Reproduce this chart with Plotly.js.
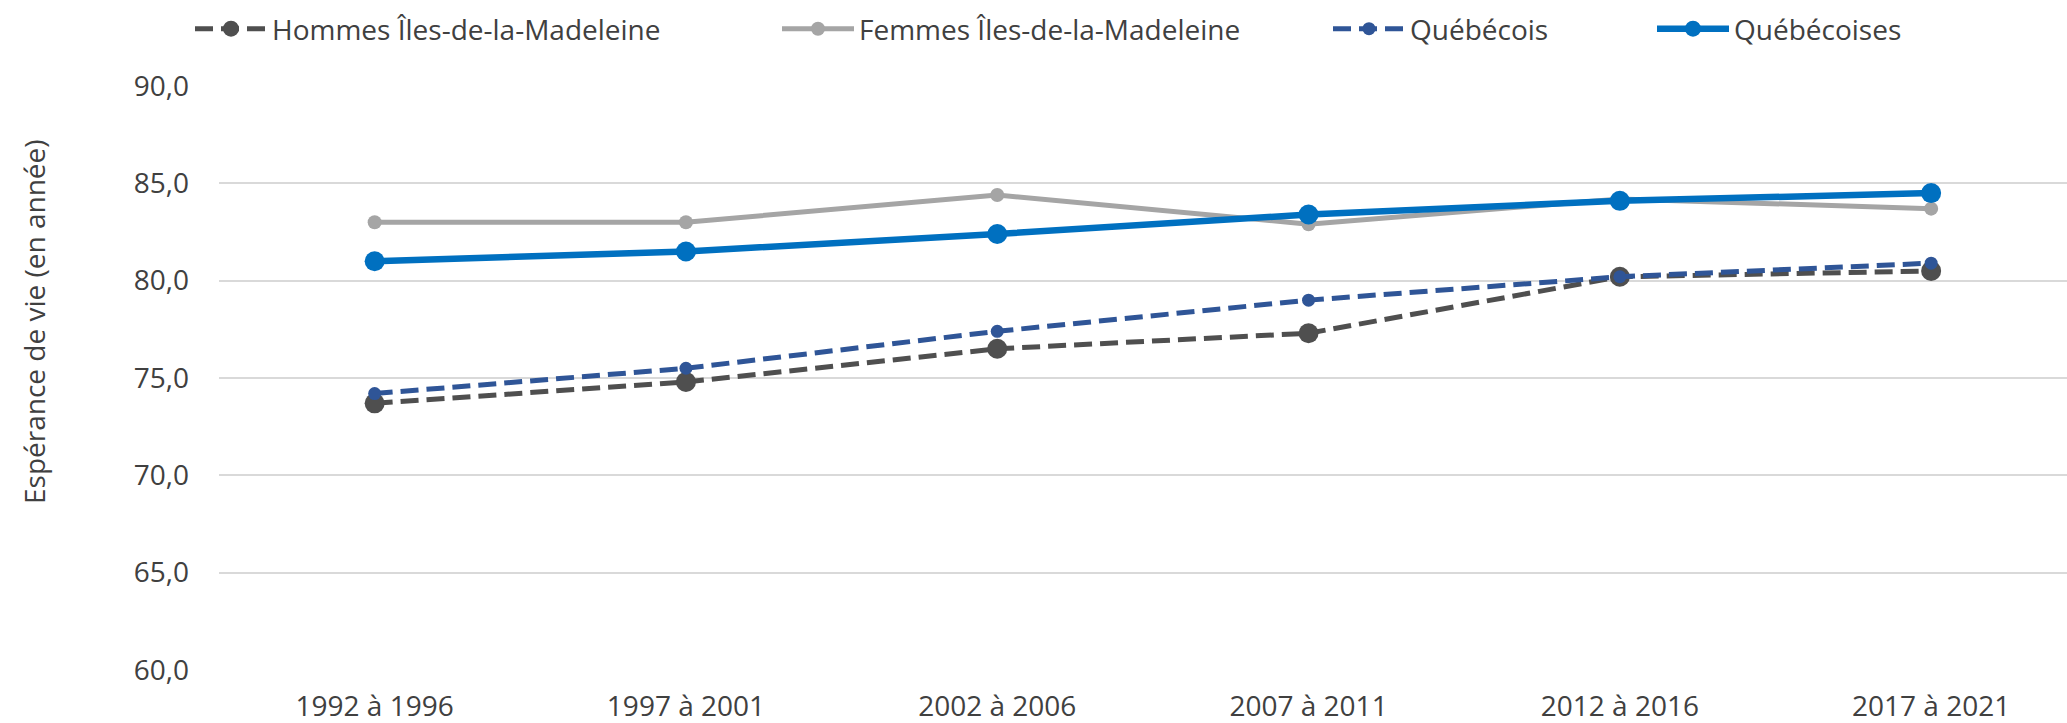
<!DOCTYPE html>
<html>
<head>
<meta charset="utf-8">
<script src="https://cdn.plot.ly/plotly-3.0.1.min.js"></script>
<style>
  html, body { margin: 0; padding: 0; background: #ffffff; }
  #chart { width: 2067px; height: 723px; }
</style>
</head>
<body>
<div id="chart"></div>
<script>
// ---- Data ----
const periods = ["1992 à 1996", "1997 à 2001", "2002 à 2006", "2007 à 2011", "2012 à 2016", "2017 à 2021"];
const seriesNames = ["Hommes Îles-de-la-Madeleine", "Femmes Îles-de-la-Madeleine", "Québécois", "Québécoises"];
const hommesIdM = [73.7, 74.8, 76.5, 77.3, 80.2, 80.5];
const femmesIdM = [83.0, 83.0, 84.4, 82.9, 84.2, 83.7];
const quebecois = [74.2, 75.5, 77.4, 79.0, 80.2, 80.9];
const quebecoises = [81.0, 81.5, 82.4, 83.4, 84.1, 84.5];
const yTicks = [60, 65, 70, 75, 80, 85, 90];

(function () {
  const W = 2067, H = 723;
  const FONT = "Open Sans, Noto Sans, sans-serif";
  const TXT = "#404040";

  const traces = [
    { name: seriesNames[0], y: hommesIdM, color: "#4F4F4F", width: 5, dash: "18px,8px", size: 20, legend: "legend" },
    { name: seriesNames[1], y: femmesIdM, color: "#A5A5A5", width: 5, dash: "solid", size: 14, legend: "legend2" },
    { name: seriesNames[2], y: quebecois, color: "#2F5597", width: 5, dash: "18px,8px", size: 13, legend: "legend3" },
    { name: seriesNames[3], y: quebecoises, color: "#0070C0", width: 6.5, dash: "solid", size: 20, legend: "legend4" }
  ].map(s => ({
    type: "scatter",
    mode: "lines+markers",
    name: s.name,
    x: periods,
    y: s.y,
    legend: s.legend,
    line: { color: s.color, width: s.width, dash: s.dash },
    marker: { color: s.color, size: s.size, symbol: "circle" },
    hoverinfo: "x+y+name"
  }));

  function leg(xpx) {
    return {
      orientation: "h",
      xref: "container", yref: "container",
      x: xpx / W, y: 1 - 29 / H,
      xanchor: "left", yanchor: "middle",
      font: { family: FONT, size: 28, color: TXT },
      itemwidth: 72,
      bgcolor: "rgba(0,0,0,0)",
      borderwidth: 0
    };
  }

  const mL = 219, mR = 0, mT = 86, mB = 53;
  const plotW = W - mL - mR;
  const catPx = 311.3;

  const layout = {
    width: W, height: H,
    paper_bgcolor: "#ffffff",
    plot_bgcolor: "#ffffff",
    margin: { l: mL, r: mR, t: mT, b: mB, pad: 0 },
    font: { family: FONT, size: 28, color: TXT },
    separators: ", ",
    showlegend: true,
    legend: leg(190),
    legend2: leg(777),
    legend3: leg(1328),
    legend4: leg(1652),
    xaxis: {
      type: "category",
      range: [-0.5, -0.5 + plotW / catPx],
      showgrid: false,
      zeroline: false,
      showline: false,
      ticks: "",
      ticklabelstandoff: 17,
      tickfont: { family: FONT, size: 28, color: TXT },
      fixedrange: true
    },
    yaxis: {
      range: [60, 90],
      tickvals: yTicks,
      tickformat: ".1f",
      showgrid: true,
      gridcolor: "#D9D9D9",
      gridwidth: 2,
      zeroline: false,
      showline: false,
      ticks: "",
      ticklabelstandoff: 29,
      tickfont: { family: FONT, size: 28, color: TXT },
      fixedrange: true
    },
    annotations: [{
      text: "Espérance de vie (en année)",
      xref: "paper", yref: "paper",
      x: (34 - mL) / plotW, y: (H - mB - 322) / (H - mT - mB),
      xanchor: "center", yanchor: "middle",
      textangle: -90,
      showarrow: false,
      font: { family: FONT, size: 28, color: TXT }
    }]
  };

  Plotly.newPlot("chart", traces, layout, { displayModeBar: false, staticPlot: true });
})();
</script>
</body>
</html>
